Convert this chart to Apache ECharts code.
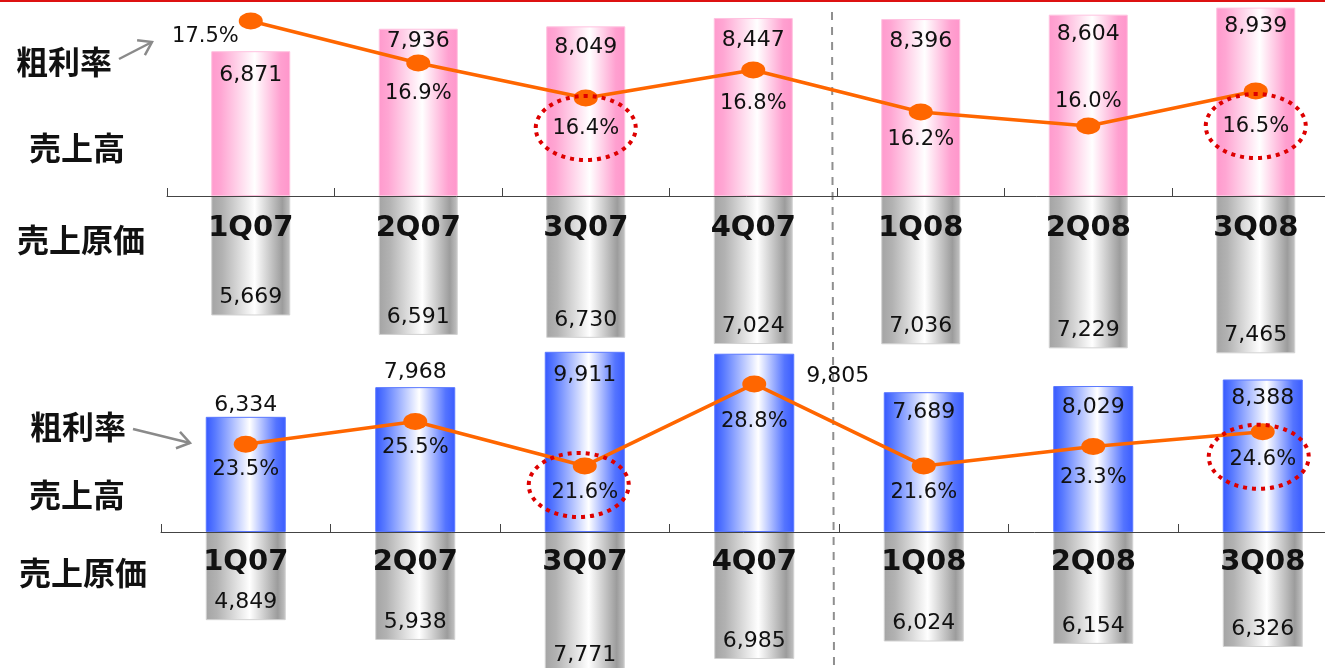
<!DOCTYPE html>
<html>
<head>
<meta charset="utf-8">
<script src="https://cdn.jsdelivr.net/npm/echarts@6/dist/echarts.min.js"></script>
<style>
  html, body { margin: 0; padding: 0; background: #fff; }
  #chart { width: 1325px; height: 668px; }
</style>
</head>
<body>
<div id="chart"></div>
<script>
// Quarter labels shared by both panels
const quarters = ['1Q07', '2Q07', '3Q07', '4Q07', '1Q08', '2Q08', '3Q08'];

// Upper panel: sales, cost of sales, gross margin (%)
const salesUpper = [6871, 7936, 8049, 8447, 8396, 8604, 8939];
const costUpper = [5669, 6591, 6730, 7024, 7036, 7229, 7465];
const marginUpper = [17.5, 16.9, 16.4, 16.8, 16.2, 16.0, 16.5];

// Lower panel: sales, cost of sales, gross margin (%)
const salesLower = [6334, 7968, 9911, 9805, 7689, 8029, 8388];
const costLower = [4849, 5938, 7771, 6985, 6024, 6154, 6326];
const marginLower = [23.5, 25.5, 21.6, 28.8, 21.6, 23.3, 24.6];

// Row captions
const captionMargin = '粗利率';
const captionSales = '売上高';
const captionCost = '売上原価';

const NUM_FONT = 'DejaVu Sans, Arial, sans-serif';
const CJK_FONT = '"Noto Sans CJK JP", "Noto Sans CJK SC", sans-serif';
const fmt = v => Number(v).toLocaleString('en-US');

function grad(stops) {
  return new echarts.graphic.LinearGradient(0, 0, 1, 0,
    stops.map(s => ({ offset: s[0], color: s[1] })));
}
const pinkFill = grad([[0, '#ff9acd'], [0.12, '#ffa6d3'], [0.55, '#ffffff'], [0.88, '#ffa0d0'], [1, '#ff96cb']]);
const blueFill = grad([[0, '#3558ff'], [0.12, '#5a7bff'], [0.55, '#ffffff'], [0.88, '#5474ff'], [1, '#3a5cff']]);
const grayFill = grad([[0, '#a4a4a4'], [0.14, '#b2b2b2'], [0.55, '#ffffff'], [0.9, '#9c9c9c'], [1, '#c4c4c4']]);

const valueLabel = {
  show: true, color: '#111', fontFamily: NUM_FONT, fontSize: 22,
  formatter: p => fmt(p.value)
};
const pctLabel = {
  show: true, color: '#111', fontFamily: NUM_FONT, fontSize: 21,
  formatter: p => p.value.toFixed(1) + '%'
};

// per-point label placement
const pinkLabelDist = [13, 2, 10, 11, 11, 9, 8];
const upperPctPlace = [
  { position: 'left', distance: 0, offset: [0, 16] },
  { position: 'bottom', distance: 12 },
  { position: 'bottom', distance: 12 },
  { position: 'bottom', distance: 15 },
  { position: 'bottom', distance: 9 },
  { position: 'top', distance: 5 },
  { position: 'bottom', distance: 17 }
];
const blueLabelPlace = [
  { position: 'top', distance: 1 },
  { position: 'top', distance: 4 },
  { position: 'insideTop', distance: 12 },
  { position: [92, 12] },
  { position: 'insideTop', distance: 9 },
  { position: 'insideTop', distance: 10 },
  { position: 'insideTop', distance: 8 }
];
const lowerPctDist = [6, 7, 8, 19, 8, 12, 9];

const categoryAxis = (gridIndex, margin) => ({
  type: 'category', gridIndex, data: quarters, z: 10,
  axisLine: { show: true, lineStyle: { color: '#444', width: 1 } },
  axisTick: { show: true, inside: true, length: 8, lineStyle: { color: '#444' } },
  axisLabel: { show: true, margin, color: '#111', fontFamily: NUM_FONT, fontWeight: 'bold', fontSize: 29 },
  splitLine: { show: false }
});
const hiddenCat = gridIndex => ({ type: 'category', gridIndex, data: quarters, show: false });
const hiddenVal = (gridIndex, min, max, inverse) => ({
  type: 'value', gridIndex, min, max, inverse: !!inverse, show: false, splitLine: { show: false }
});
const panelGrid = (left, top, width, height) => ({ left, top, width, height, outerBoundsMode: 'none', containLabel: false });

const chart = echarts.init(document.getElementById('chart'), null, { renderer: 'canvas' });

chart.setOption({
  animation: false,
  grid: [
    panelGrid(167, 0, 1172.5, 196),
    panelGrid(167, 196, 1172.5, 196),
    panelGrid(161, 332, 1186.5, 200),
    panelGrid(161, 532, 1186.5, 200)
  ],
  xAxis: [
    categoryAxis(0, 18),
    hiddenCat(1),
    categoryAxis(2, 16),
    hiddenCat(3)
  ],
  yAxis: [
    hiddenVal(0, 0, 9300),
    hiddenVal(0, 15, 17.8),
    hiddenVal(1, 0, 9300, true),
    hiddenVal(2, 0, 11000),
    hiddenVal(2, 15.8, 33.36),
    hiddenVal(3, 0, 11000, true)
  ],
  series: [
    {
      name: captionSales, type: 'bar', xAxisIndex: 0, yAxisIndex: 0, barWidth: 79,
      itemStyle: { color: pinkFill, borderColor: '#ffc2e0', borderWidth: 1 },
      label: Object.assign({}, valueLabel, { position: 'insideTop' }),
      data: salesUpper.map((v, i) => ({ value: v, label: { distance: pinkLabelDist[i] } }))
    },
    {
      name: captionCost, type: 'bar', xAxisIndex: 1, yAxisIndex: 2, barWidth: 79,
      itemStyle: { color: grayFill, borderColor: '#d2d2d2', borderWidth: 1 },
      label: Object.assign({}, valueLabel, { position: 'insideBottom', distance: 7 }),
      data: costUpper
    },
    {
      name: captionMargin, type: 'line', xAxisIndex: 0, yAxisIndex: 1, z: 6,
      symbol: 'circle', symbolSize: [24, 17],
      lineStyle: { color: '#ff6600', width: 3.5 },
      itemStyle: { color: '#ff6600' },
      label: pctLabel,
      data: marginUpper.map((v, i) => ({ value: v, label: upperPctPlace[i] }))
    },
    {
      name: captionSales, type: 'bar', xAxisIndex: 2, yAxisIndex: 3, barWidth: 80,
      itemStyle: { color: blueFill, borderColor: '#5a78ff', borderWidth: 1 },
      label: valueLabel,
      data: salesLower.map((v, i) => ({ value: v, label: blueLabelPlace[i] }))
    },
    {
      name: captionCost, type: 'bar', xAxisIndex: 3, yAxisIndex: 5, barWidth: 80,
      itemStyle: { color: grayFill, borderColor: '#d2d2d2', borderWidth: 1 },
      label: Object.assign({}, valueLabel, { position: 'insideBottom', distance: 7 }),
      data: costLower
    },
    {
      name: captionMargin, type: 'line', xAxisIndex: 2, yAxisIndex: 4, z: 6,
      symbol: 'circle', symbolSize: [24, 17],
      lineStyle: { color: '#ff6600', width: 3.5 },
      itemStyle: { color: '#ff6600' },
      label: pctLabel,
      data: marginLower.map((v, i) => ({ value: v, label: { position: 'bottom', distance: lowerPctDist[i] } }))
    }
  ]
});

// ---- annotations drawn on top of the chart ----
function arrow(x1, y1, x2, y2) {
  const a = Math.atan2(y2 - y1, x2 - x1), len = 15, spread = 0.6;
  const p1 = [x2 - len * Math.cos(a - spread), y2 - len * Math.sin(a - spread)];
  const p2 = [x2 - len * Math.cos(a + spread), y2 - len * Math.sin(a + spread)];
  const style = { stroke: '#8a8a8a', lineWidth: 2.5, fill: null };
  return [
    { type: 'line', shape: { x1, y1, x2, y2 }, style },
    { type: 'polyline', shape: { points: [p1, [x2, y2], p2] }, style }
  ];
}
function caption(text, x, y) {
  return {
    type: 'text', z: 20,
    style: { text, x, y, fill: '#111', fontSize: 32, fontWeight: 'bold', fontFamily: CJK_FONT, verticalAlign: 'middle' }
  };
}
function ring(seriesIndex, idx, value, dx, dy) {
  const p = chart.convertToPixel({ seriesIndex }, [idx, value]);
  return {
    type: 'ellipse', z: 30,
    shape: { cx: p[0] + dx, cy: p[1] + dy, rx: 50, ry: 32 },
    style: { stroke: '#dd0000', lineWidth: 4, lineDash: [4, 5], fill: null }
  };
}

// divider between fiscal years, just left of the boundary tick
const xA = chart.convertToPixel({ xAxisIndex: 0 }, 3);
const xB = chart.convertToPixel({ xAxisIndex: 0 }, 4);
const divX = (xA + xB) / 2 - 5;

const graphics = [
  { type: 'rect', z: 30, shape: { x: 0, y: 0, width: 1325, height: 2 }, style: { fill: '#dd1111' } },
  { type: 'line', z: 1, shape: { x1: divX, y1: 12, x2: divX + 2, y2: 668 },
    style: { stroke: '#8f8f8f', lineWidth: 2, lineDash: [8, 7] } },
  caption(captionMargin, 16, 62),
  caption(captionSales, 29, 148),
  caption(captionCost, 17, 240),
  caption(captionMargin, 30, 427),
  caption(captionSales, 29, 495),
  caption(captionCost, 19, 573),
  ...arrow(119, 59, 152, 42),
  ...arrow(133, 429, 190, 443),
  ring(2, 2, marginUpper[2], 0, 30),
  ring(2, 6, marginUpper[6], 0, 35),
  ring(5, 2, marginLower[2], -6, 19),
  ring(5, 6, marginLower[6], -4, 25)
];
chart.setOption({ graphic: graphics });
</script>
</body>
</html>
